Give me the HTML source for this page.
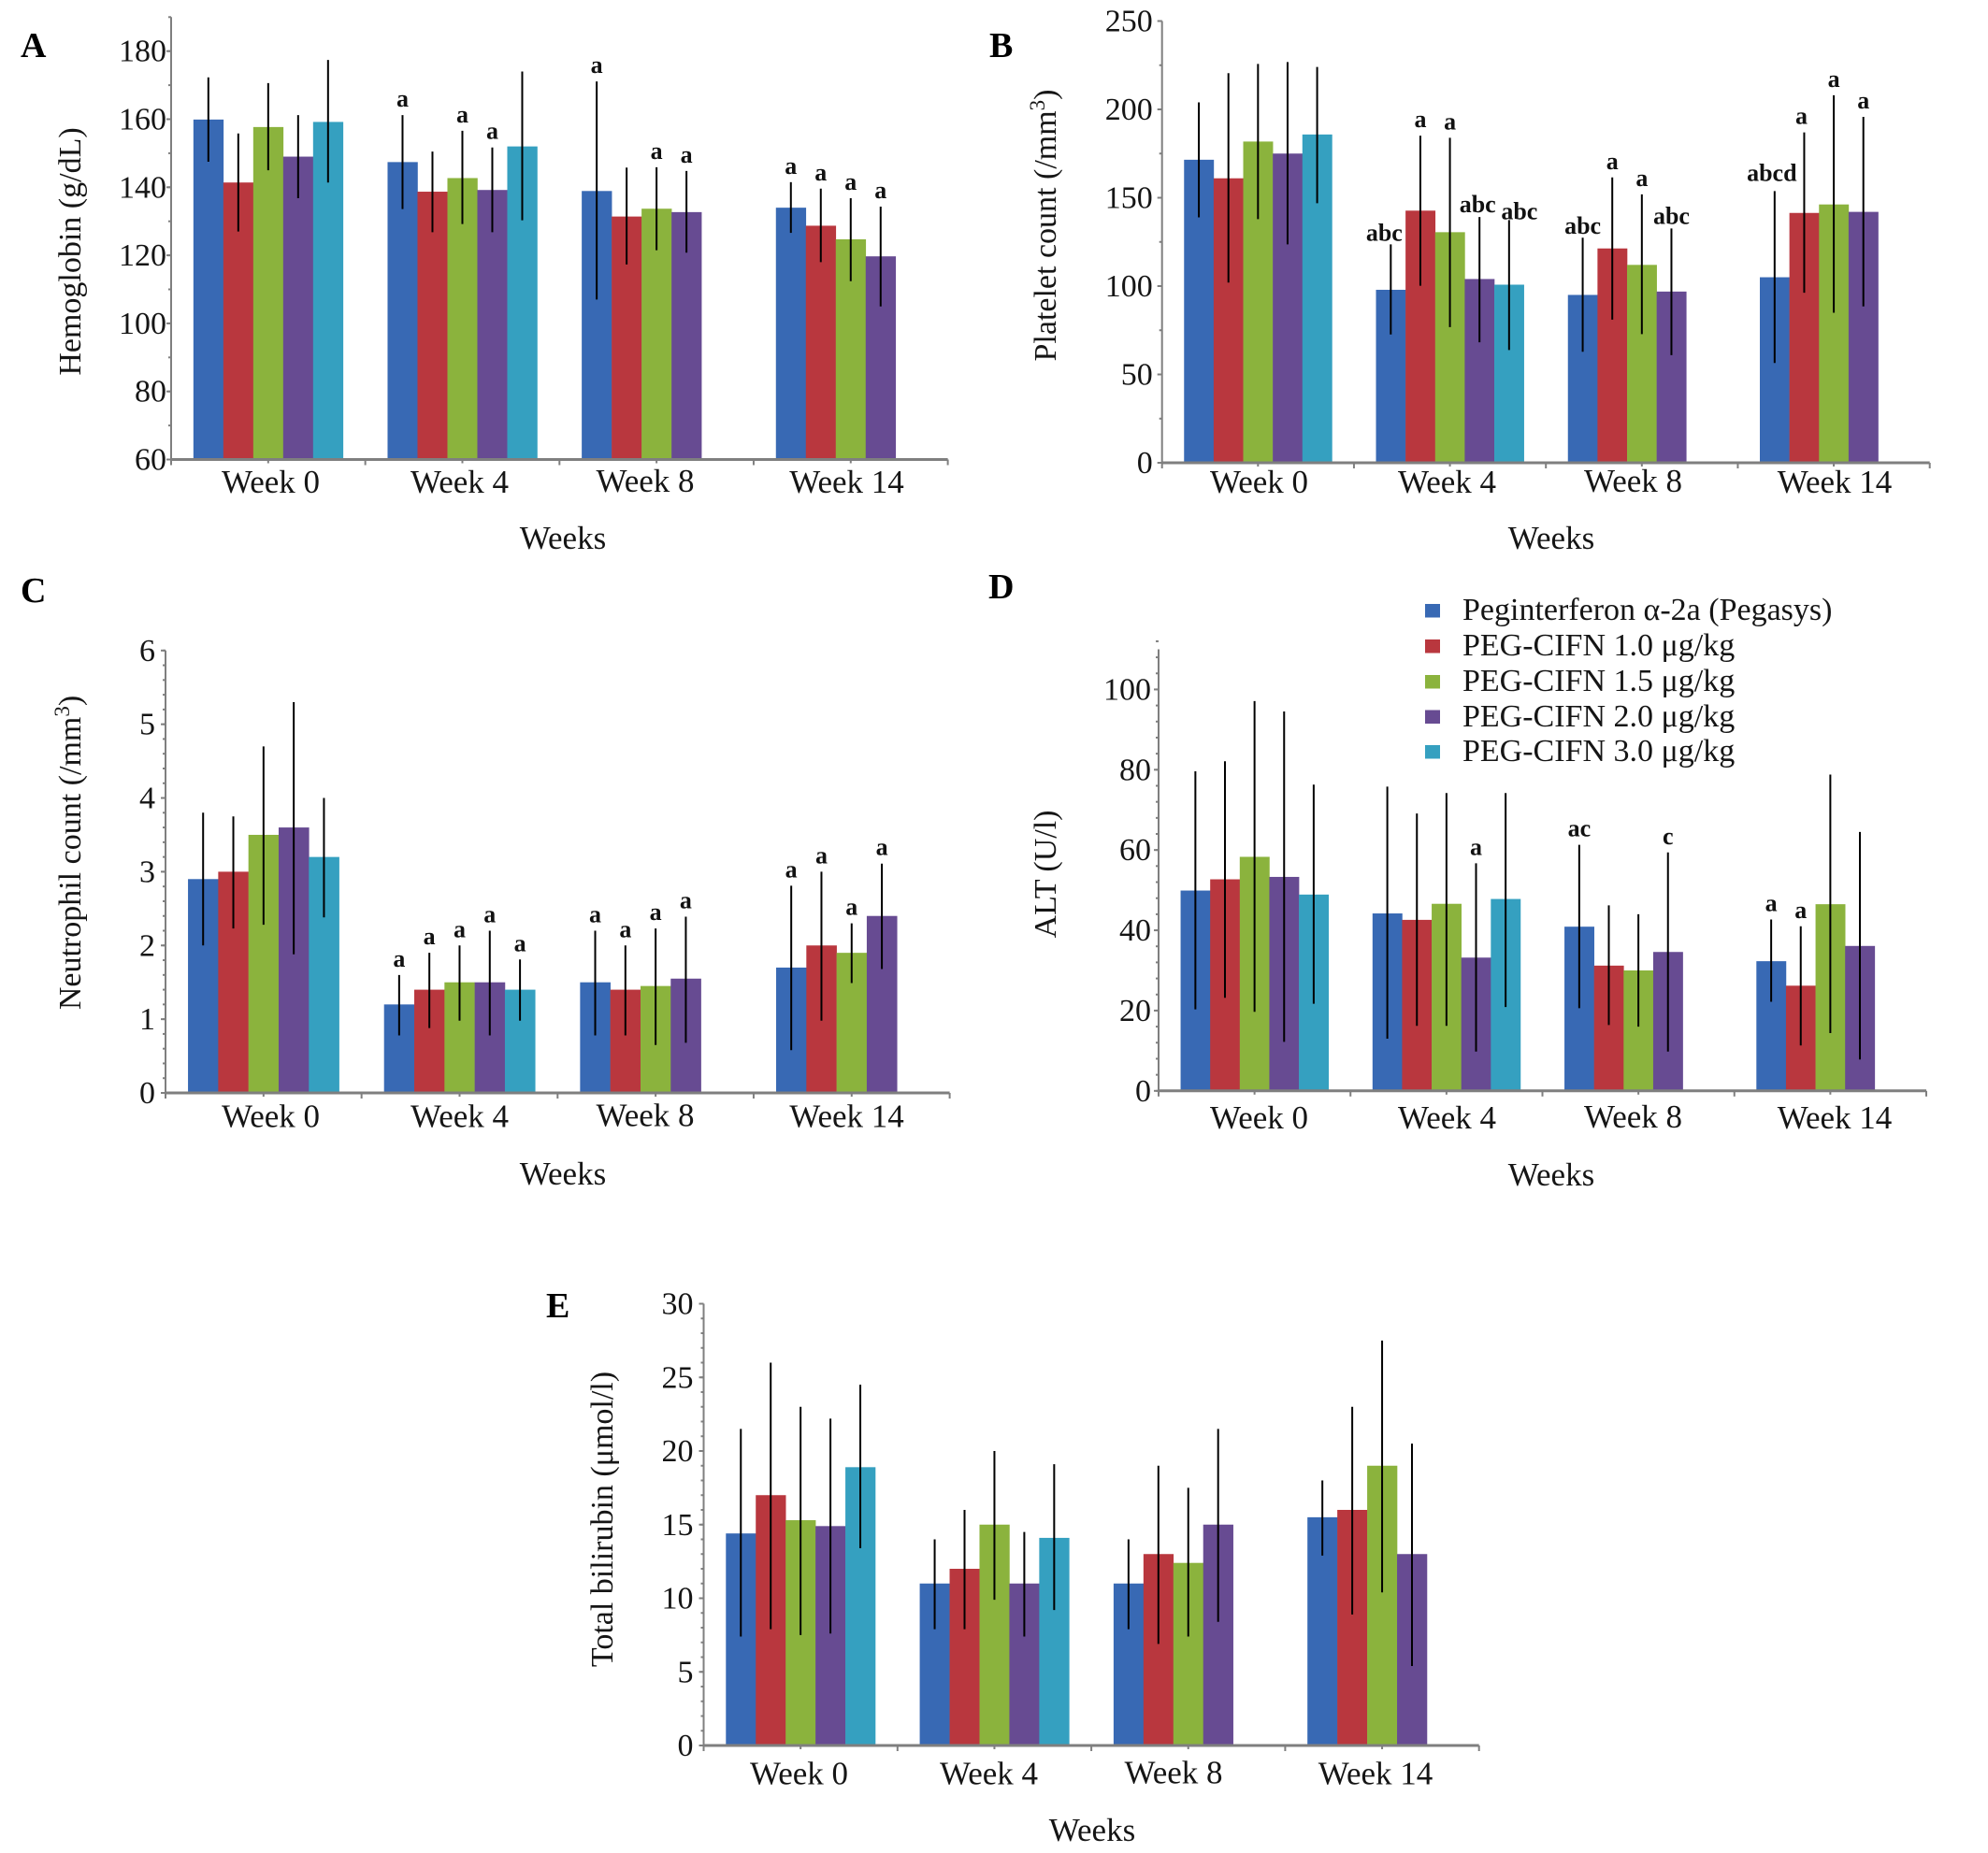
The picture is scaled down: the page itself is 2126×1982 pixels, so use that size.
<!DOCTYPE html>
<html lang="en">
<head>
<meta charset="utf-8">
<title>Hematology and liver function by treatment group</title>
<style>
html,body{margin:0;padding:0;background:#fff;}
#figure{display:block;width:2126px;height:1982px;background:#fff;font-family:"Liberation Serif","DejaVu Serif",serif;fill:#151515;}
#figure text{font-size:35px;}
#figure .y-tick{font-size:34px;}
#figure .y-title{font-size:34px;}
#figure .legend-text{font-size:34px;}
#figure .panel-letter{font-size:38px;font-weight:bold;fill:#000;}
#figure .note{font-size:26px;font-weight:bold;fill:#111;text-anchor:middle;}
#figure .super{font-size:23px;}
</style>
</head>
<body>
<svg id="figure" xmlns="http://www.w3.org/2000/svg" width="2126" height="1982" viewBox="0 0 2126 1982">
  <text class="panel-letter" x="22" y="61">A</text>
  <text class="panel-letter" x="1058" y="61">B</text>
  <text class="panel-letter" x="22" y="644">C</text>
  <text class="panel-letter" x="1057" y="640">D</text>
  <text class="panel-letter" x="584" y="1409">E</text>

  <text class="y-title" transform="translate(86 269) rotate(-90)" text-anchor="middle">Hemoglobin (g/dL)</text>
  <text class="y-title" transform="translate(1129 241) rotate(-90)" text-anchor="middle">Platelet count (/mm<tspan class="super" dy="-12">3</tspan><tspan dy="12">)</tspan></text>
  <text class="y-title" transform="translate(86 912) rotate(-90)" text-anchor="middle">Neutrophil count (/mm<tspan class="super" dy="-12">3</tspan><tspan dy="12">)</tspan></text>
  <text class="y-title" transform="translate(1129 935) rotate(-90)" text-anchor="middle">ALT (U/l)</text>
  <text class="y-title" transform="translate(655 1625) rotate(-90)" text-anchor="middle">Total bilirubin (μmol/l)</text>

  <text x="602" y="587" text-anchor="middle">Weeks</text>
  <text x="1659" y="587" text-anchor="middle">Weeks</text>
  <text x="602" y="1267" text-anchor="middle">Weeks</text>
  <text x="1659" y="1268" text-anchor="middle">Weeks</text>
  <text x="1168" y="1969" text-anchor="middle">Weeks</text>

  <g id="charts"></g>

  <g id="legend">
    <g>
      <rect x="1524" y="646" width="16" height="14.5" fill="#3869b4"/>
      <text class="legend-text" x="1564" y="663">Peginterferon α-2a (Pegasys)</text>
    </g>
    <g>
      <rect x="1524" y="684" width="16" height="14.5" fill="#b9373e"/>
      <text class="legend-text" x="1564" y="701">PEG-CIFN 1.0 μg/kg</text>
    </g>
    <g>
      <rect x="1524" y="722" width="16" height="14.5" fill="#8bb33d"/>
      <text class="legend-text" x="1564" y="739">PEG-CIFN 1.5 μg/kg</text>
    </g>
    <g>
      <rect x="1524" y="759.5" width="16" height="14.5" fill="#674b92"/>
      <text class="legend-text" x="1564" y="777">PEG-CIFN 2.0 μg/kg</text>
    </g>
    <g>
      <rect x="1524" y="797" width="16" height="14.5" fill="#35a0c0"/>
      <text class="legend-text" x="1564" y="814">PEG-CIFN 3.0 μg/kg</text>
    </g>
  </g>
</svg>

<script>
// ---- Shared categories ----
const weeks = ['Week 0', 'Week 4', 'Week 8', 'Week 14'];

// ---- Panel A: hemoglobin (rows = weeks, columns = treatment groups) ----
const aTicks = [60, 80, 100, 120, 140, 160, 180];
const aMean = [[159.9, 141.4, 157.7, 149, 159.2], [147.4, 138.7, 142.7, 139.2, 152], [138.9, 131.4, 133.7, 132.7], [134, 128.7, 124.7, 119.7]];
const aHigh = [[172.3, 155.8, 170.6, 161.2, 177.4], [161.2, 150.5, 156.6, 151.7, 174], [171.1, 145.8, 145.9, 144.8], [141.5, 139.6, 136.8, 134.3]];
const aLow = [[147.5, 127, 145, 136.8, 141.4], [133.6, 126.8, 129.2, 126.8, 130.3], [107, 117.3, 121.5, 120.8], [126.6, 118, 112.4, 105]];
const aNotes = [[], ['a', '', 'a', 'a', ''], ['a', '', 'a', 'a'], ['a', 'a', 'a', 'a']];

// ---- Panel B: platelet count ----
const bTicks = [0, 50, 100, 150, 200, 250];
const bMean = [[171.5, 161, 181.8, 175, 185.8], [97.9, 142.7, 130.5, 104, 100.8], [95, 121.3, 112, 96.9], [105, 141.4, 146.2, 142]];
const bHigh = [[204, 220.5, 225.7, 226.8, 224], [123.6, 185.1, 183.9, 139.1, 137.4], [127.4, 161.5, 151.9, 132.6], [153.8, 187, 208, 195.8]];
const bLow = [[138.9, 102, 137.9, 123.6, 146.9], [72.6, 100.2, 76.8, 68.2, 63.8], [62.8, 81, 72.8, 60.9], [56.5, 96.2, 84.9, 88.5]];
const bNotes = [[], ['abc', 'a', 'a', 'abc', 'abc'], ['abc', 'a', 'a', 'abc'], ['abcd', 'a', 'a', 'a']];

// ---- Panel C: neutrophil count ----
const cTicks = [0, 1, 2, 3, 4, 5, 6];
const cMean = [[2.9, 3, 3.5, 3.6, 3.2], [1.2, 1.4, 1.5, 1.5, 1.4], [1.5, 1.4, 1.45, 1.55], [1.7, 2, 1.9, 2.4]];
const cHigh = [[3.8, 3.75, 4.7, 5.3, 4], [1.6, 1.9, 2, 2.2, 1.81], [2.2, 2, 2.23, 2.39], [2.81, 3, 2.3, 3.11]];
const cLow = [[2, 2.23, 2.28, 1.88, 2.38], [0.78, 0.88, 0.98, 0.78, 0.98], [0.78, 0.78, 0.65, 0.68], [0.58, 0.98, 1.49, 1.68]];
const cNotes = [[], ['a', 'a', 'a', 'a', 'a'], ['a', 'a', 'a', 'a'], ['a', 'a', 'a', 'a']];

// ---- Panel D: ALT ----
const dTicks = [0, 20, 40, 60, 80, 100];
const dMean = [[49.9, 52.7, 58.3, 53.3, 48.9], [44.2, 42.6, 46.6, 33.2, 47.8], [40.9, 31.2, 30, 34.6], [32.3, 26.2, 46.5, 36.1]];
const dHigh = [[79.6, 82.1, 97.1, 94.5, 76.3], [75.8, 69.1, 74.2, 56.7, 74.2], [61.3, 46.2, 44, 59.4], [42.7, 41, 78.8, 64.5]];
const dLow = [[20.3, 23.2, 19.7, 12.2, 21.7], [13, 16.2, 16.2, 9.8, 20.9], [20.6, 16.4, 16, 9.8], [22.2, 11.3, 14.4, 7.8]];
const dNotes = [[], ['', '', '', 'a', ''], ['ac', '', '', 'c'], ['a', 'a', '', '']];

// ---- Panel E: total bilirubin ----
const eTicks = [0, 5, 10, 15, 20, 25, 30];
const eMean = [[14.4, 17, 15.3, 14.9, 18.9], [11, 12, 15, 11, 14.1], [11, 13, 12.4, 15], [15.5, 16, 19, 13]];
const eHigh = [[21.5, 26, 23, 22.2, 24.5], [14, 16, 20, 14.5, 19.1], [14, 19, 17.5, 21.5], [18, 23, 27.5, 20.5]];
const eLow = [[7.4, 7.9, 7.5, 7.6, 13.4], [7.9, 7.9, 9.9, 7.4, 9.2], [7.9, 6.9, 7.4, 8.4], [12.9, 8.9, 10.4, 5.4]];
const eNotes = [[], [], [], []];

// ---- Styling and layout (not data) ----
const seriesColors = ['#3869b4', '#b9373e', '#8bb33d', '#674b92', '#35a0c0'];
const seriesKeys = ['pegasys', 'cifn-1-0', 'cifn-1-5', 'cifn-2-0', 'cifn-3-0'];
const noNudge = [[], [], [], []];
const bNoteNudge = [[], [[-7, 5], [0, 0], [0, 0], [-2, 4], [11, 8]], [[0, 5], [0, 0], [0, 0], [0, 4]], [[-3, -2], [-3, 0], [0, 0], [0, 0]]];

const SVG_NS = 'http://www.w3.org/2000/svg';
const chartsRoot = document.getElementById('charts');

function make(tag, attrs, parent, text) {
  const el = document.createElementNS(SVG_NS, tag);
  Object.keys(attrs).forEach(function (k) { el.setAttribute(k, attrs[k]); });
  if (text !== undefined) el.textContent = text;
  parent.appendChild(el);
  return el;
}

function drawPanel(p) {
  const g = make('g', {}, chartsRoot);
  
  

  const unit = (p.yBase - p.yTop) / (p.yMax - p.yMin);
  const yScale = function (v) { return p.yBase - (v - p.yMin) * unit; };
  const groupW = (p.xEnd - p.xAxis) / weeks.length;
  const barW = groupW * 0.1541;
  const pad = (groupW - barW * 5) / 2;
  const xScale = function (week, series) { return p.xAxis + groupW * week + pad + barW * series; };

  // bars
  p.mean.forEach(function (row, w) {
    row.forEach(function (v, s) {
      const bar = make('rect', { x: xScale(w, s), y: yScale(v), width: barW + 0.3, height: p.yBase - yScale(v), fill: seriesColors[s] }, g);
      
      
    });
  });

  // error bars
  p.high.forEach(function (row, w) {
    row.forEach(function (hi, s) {
      const cx = xScale(w, s) + barW / 2;
      const err = make('line', { x1: cx, x2: cx, y1: yScale(hi), y2: yScale(p.low[w][s]), stroke: '#000', 'stroke-width': 2 }, g);
      
      
    });
  });

  // significance notes
  p.notes.forEach(function (row, w) {
    row.forEach(function (label, s) {
      if (!label) return;
      const shift = (p.noteNudge[w] && p.noteNudge[w][s]) || [0, 0];
      const cx = xScale(w, s) + barW / 2 + shift[0];
      const note = make('text', { class: 'note', x: cx, y: yScale(p.high[w][s]) - 9 + shift[1] }, g, label);
      
      
    });
  });

  // y axis
  const yAxis = make('line', { x1: p.xAxis, x2: p.xAxis, y1: p.yTop, y2: p.yBase + 1, stroke: '#7f7f7f', 'stroke-width': 2 }, g);
  
  

  const minorCount = Math.round((p.yMax - p.yMin) / p.minorStep);
  for (let i = 0; i <= minorCount; i++) {
    const ty = yScale(p.yMin + i * p.minorStep);
    const minor = make('line', { x1: p.xAxis - 3, x2: p.xAxis, y1: ty, y2: ty, stroke: '#7f7f7f', 'stroke-width': 2 }, g);
    
    
  }

  p.ticks.forEach(function (v) {
    const ty = yScale(v);
    const tick = make('line', { x1: p.xAxis - 5, x2: p.xAxis, y1: ty, y2: ty, stroke: '#7f7f7f', 'stroke-width': 2 }, g);
    
    
    const lab = make('text', { class: 'y-tick', x: p.xAxis - p.labelGap, y: ty + 11, 'text-anchor': 'end' }, g, String(v));
    
    
  });

  // x axis
  const xAxis = make('line', { x1: p.xAxis, x2: p.xEnd, y1: p.yBase, y2: p.yBase, stroke: '#7f7f7f', 'stroke-width': 3 }, g);
  
  

  for (let i = 0; i <= weeks.length; i++) {
    const tx = p.xAxis + groupW * i;
    const tick = make('line', { x1: tx, x2: tx, y1: p.yBase, y2: p.yBase + 6, stroke: '#7f7f7f', 'stroke-width': 2 }, g);
    
    
  }

  weeks.forEach(function (name, w) {
    const cx = p.xAxis + groupW * (w + 0.5);
    const mid = make('line', { x1: cx, x2: cx, y1: p.yBase, y2: p.yBase + 4, stroke: '#7f7f7f', 'stroke-width': 2 }, g);
    
    
    const lab = make('text', { x: p.weekLabelX[w], y: p.xLabelY - (w === 2 ? 1 : 0), 'text-anchor': 'middle' }, g, name);
    
    
  });
}

drawPanel({ id: 'a', mean: aMean, high: aHigh, low: aLow, notes: aNotes, noteNudge: noNudge, ticks: aTicks, xAxis: 183, xEnd: 1013.6, yBase: 491.5, yTop: 18.3, yMin: 60, yMax: 190, minorStep: 10, labelGap: 5, xLabelY: 527, weekLabelX: [289.5, 491.5, 690, 905.5] });
drawPanel({ id: 'b', mean: bMean, high: bHigh, low: bLow, notes: bNotes, noteNudge: bNoteNudge, ticks: bTicks, xAxis: 1242.7, xEnd: 2063.7, yBase: 495, yTop: 22.5, yMin: 0, yMax: 250, minorStep: 25, labelGap: 10, xLabelY: 527, weekLabelX: [1346.5, 1547.5, 1746.5, 1962] });
drawPanel({ id: 'c', mean: cMean, high: cHigh, low: cLow, notes: cNotes, noteNudge: noNudge, ticks: cTicks, xAxis: 177, xEnd: 1015.6, yBase: 1169, yTop: 695.8, yMin: 0, yMax: 6, minorStep: 0.2, labelGap: 11, xLabelY: 1205.5, weekLabelX: [289.5, 491.5, 690, 905.5] });
drawPanel({ id: 'd', mean: dMean, high: dHigh, low: dLow, notes: dNotes, noteNudge: noNudge, ticks: dTicks, xAxis: 1239, xEnd: 2060, yBase: 1166.8, yTop: 694.5, yMin: 0, yMax: 110, minorStep: 4, labelGap: 8, xLabelY: 1207, weekLabelX: [1346.5, 1547.5, 1746.5, 1962] });
drawPanel({ id: 'e', mean: eMean, high: eHigh, low: eLow, notes: eNotes, noteNudge: noNudge, ticks: eTicks, xAxis: 752.5, xEnd: 1581.7, yBase: 1867, yTop: 1394.5, yMin: 0, yMax: 30, minorStep: 1, labelGap: 11, xLabelY: 1908.5, weekLabelX: [854.5, 1057.5, 1255, 1471] });
</script>
</body>
</html>
